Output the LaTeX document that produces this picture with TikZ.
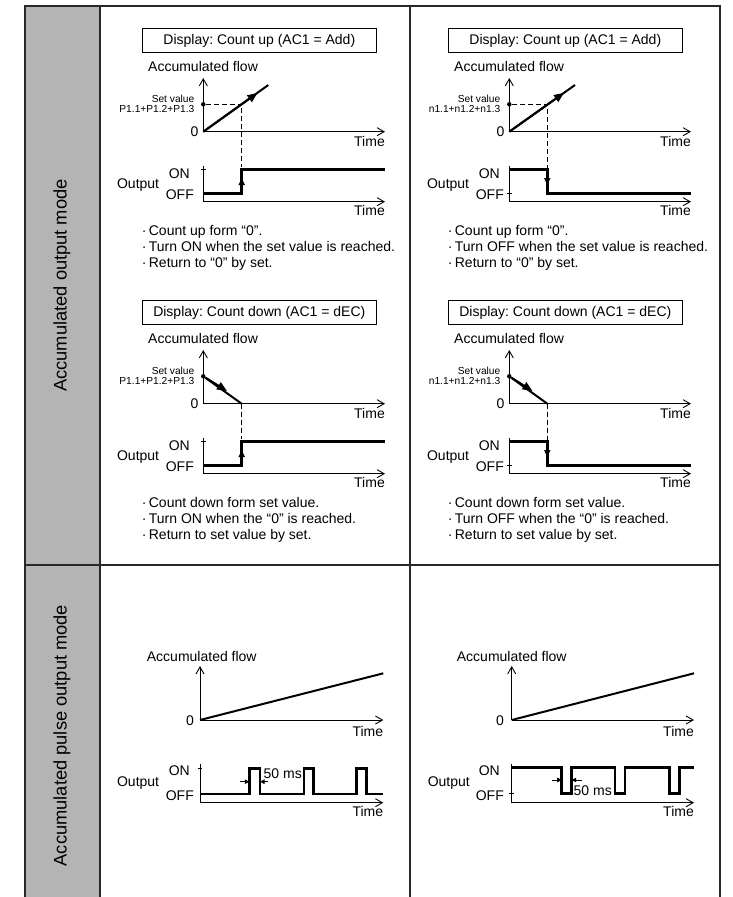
\documentclass[tikz,border=0pt]{standalone}
\usepackage{fontspec}
\setmainfont{Liberation Sans}
\usetikzlibrary{arrows.meta}
\frenchspacing
\definecolor{graycol}{RGB}{180,180,180}
\definecolor{linecol}{RGB}{40,40,40}
\tikzset{
  lbl/.style={font=\fontsize{14}{16}\selectfont, inner sep=0pt},
  small/.style={font=\fontsize{10.2}{12}\selectfont, inner sep=0pt},
  sidelbl/.style={font=\fontsize{18.3}{20}\selectfont, inner sep=0pt, rotate=90},
  gridline/.style={draw=linecol, line width=1.3pt},
  axis/.style={draw=black, line width=0.9pt, -{Straight Barb[length=7pt,width=8pt]}},
  vaxis/.style={draw=black, line width=0.9pt},
  tick/.style={draw=black, line width=0.9pt},
  sig/.style={draw=black, line width=2.6pt, line join=miter},
  ramp/.style={draw=black, line width=2pt},
  rampar/.style={draw=black, line width=2pt, -{Triangle[length=10pt,width=8pt]}},
  stepar/.style={draw=black, line width=1.5pt, -{Triangle[length=7pt,width=6pt]}},
  guide/.style={draw=black, line width=0.9pt, dash pattern=on 5pt off 3pt},
  dimar/.style={draw=black, line width=0.8pt, -{Triangle[length=4.5pt,width=4.5pt]}},
  titlebox/.style={draw=black, line width=1.1pt, minimum width=234pt, minimum height=24pt, inner sep=0pt, font=\fontsize{14}{16}\selectfont},
  dotnode/.style={circle, fill=black, inner sep=0pt, minimum size=4.5pt}
}
% #1 prefix, #2 title, #3 set label, #4 #5 #6 bullets, #7 label dx
\newcommand\cntframe[7]{%
  \node[titlebox] (#1title) at (259.3,40.5) {#2};
  \node[lbl,anchor=base west] (#1acc) at (148,71.6) {Accumulated flow};
  \coordinate (#1o) at (203.3,131.7);
  \coordinate (#1ytip) at (203.3,78);
  \coordinate (#1xtip) at (385,131.7);
  \draw[axis] (#1o) -- (#1ytip);
  \draw[axis] (#1o) -- (#1xtip);
  \node[lbl,anchor=base east] (#1zero) at (198.5,136.4) {0};
  \node[lbl,anchor=base east] (#1time) at (385,146) {Time};
  \node[small,anchor=base east] (#1setA) at (194.5,102.6) {Set value};
  \node[small,anchor=base east] (#1setB) at (194.5,112.9) {#3};
  \node[dotnode] (#1dot) at (203.3,104.3) {};
  \coordinate (#1oo) at (203.3,201.7);
  \coordinate (#1otop) at (203.3,165.5);
  \coordinate (#1oxtip) at (385,201.7);
  \draw[vaxis] (#1otop) -- (#1oo);
  \draw[axis] (#1oo) -- (#1oxtip);
  \node[lbl,anchor=base east] (#1otime) at (385,215.6) {Time};
  \node[lbl,anchor=base east] (#1on) at (190+#7,178.2) {ON};
  \node[lbl,anchor=base east] (#1off) at (194+#7,199) {OFF};
  \node[lbl,anchor=base east] (#1out) at (159.3+#7,188.2) {Output};
  \node[lbl,anchor=base west] (#1b1) at (141.7,235) {·\,Count #4};
  \node[lbl,anchor=base west] (#1b2) at (141.7,251.7) {·\,Turn #5 is reached.};
  \node[lbl,anchor=base west] (#1b3) at (141.7,267.7) {·\,Return to #6 by set.};
}
\begin{document}
\begin{tikzpicture}[x=1pt,y=-1pt]
\useasboundingbox (0,0) rectangle (733,897);
% table
\fill[graycol] (25,6) rectangle (100,897);
\coordinate (tl) at (25,6);
\coordinate (tr) at (720,6);
\coordinate (bl) at (25,897);
\coordinate (br) at (720,897);
\coordinate (gt) at (100,6);
\coordinate (gb) at (100,897);
\coordinate (mt) at (410,6);
\coordinate (mb) at (410,897);
\coordinate (rl) at (25,565);
\coordinate (rr) at (720,565);
\draw[gridline] (bl) -- (tl) -- (tr) -- (br);
\draw[gridline] (gt) -- (gb);
\draw[gridline] (mt) -- (mb);
\draw[gridline] (rl) -- (rr);
\node[sidelbl] (mode1) at (62,285.5) {Accumulated output mode};
\node[sidelbl] (mode2) at (62,735.5) {Accumulated pulse output mode};

% ---------- top left ----------
\begin{scope}
\cntframe{a}{Display: Count up (AC1 = Add)}{P1.1+P1.2+P1.3}{up form “0”.}{ON when the set value}{“0”}{0}
\coordinate (aend) at (268.3,85);
\coordinate (aarr) at (257.5,93);
\coordinate (across) at (241.7,104.3);
\coordinate (adash) at (241.7,167);
\draw[ramp] (ao) -- (aend);
\draw[rampar] (ao) -- (aarr);
\draw[guide] (adot) -- (across) -- (adash);
\coordinate (as0) at (203.3,193.3);
\coordinate (as1) at (241.7,193.3);
\coordinate (as2) at (241.7,169.3);
\coordinate (as3) at (385,169.3);
\coordinate (asm) at (241.7,178);
\draw[sig] (as0) -- (as1) -- (as2) -- (as3);
\draw[stepar] (as1) -- (asm);
\draw[tick] (201,169.3) -- (205.6,169.3);
\end{scope}

% ---------- top right ----------
\begin{scope}[xshift=306pt]
\cntframe{b}{Display: Count up (AC1 = Add)}{n1.1+n1.2+n1.3}{up form “0”.}{OFF when the set value}{“0”}{4}
\coordinate (bend) at (269,85);
\coordinate (barr) at (258,92.8);
\coordinate (bcross) at (241.3,104.3);
\coordinate (bdash) at (241.3,171);
\draw[ramp] (bo) -- (bend);
\draw[rampar] (bo) -- (barr);
\draw[guide] (bdot) -- (bcross) -- (bdash);
\coordinate (bs0) at (203.3,169.3);
\coordinate (bs1) at (241.3,169.3);
\coordinate (bs2) at (241.3,193.3);
\coordinate (bs3) at (385,193.3);
\coordinate (bsm) at (241.3,185);
\draw[sig] (bs0) -- (bs1) -- (bs2) -- (bs3);
\draw[stepar] (bs1) -- (bsm);
\draw[tick] (201,193.3) -- (205.6,193.3);
\end{scope}

% ---------- middle left ----------
\begin{scope}[yshift=-272pt]
\cntframe{c}{Display: Count down (AC1 = dEC)}{P1.1+P1.2+P1.3}{down form set value.}{ON when the “0”}{set value}{0}
\coordinate (cend) at (241.7,131.7);
\coordinate (carr) at (227,119);
\coordinate (cdash) at (241.7,167);
\draw[ramp] (cdot) -- (cend);
\draw[rampar] (cdot) -- (carr);
\draw[guide] (cend) -- (cdash);
\coordinate (cs0) at (203.3,193.3);
\coordinate (cs1) at (241.7,193.3);
\coordinate (cs2) at (241.7,169.3);
\coordinate (cs3) at (385,169.3);
\coordinate (csm) at (241.7,178);
\draw[sig] (cs0) -- (cs1) -- (cs2) -- (cs3);
\draw[stepar] (cs1) -- (csm);
\draw[tick] (201,169.3) -- (205.6,169.3);
\end{scope}

% ---------- middle right ----------
\begin{scope}[xshift=306pt,yshift=-272pt]
\cntframe{d}{Display: Count down (AC1 = dEC)}{n1.1+n1.2+n1.3}{down form set value.}{OFF when the “0”}{set value}{4}
\coordinate (dend) at (241.3,131.7);
\coordinate (darr) at (226.5,119);
\coordinate (ddash) at (241.3,171);
\draw[ramp] (ddot) -- (dend);
\draw[rampar] (ddot) -- (darr);
\draw[guide] (dend) -- (ddash);
\coordinate (ds0) at (203.3,169.3);
\coordinate (ds1) at (241.3,169.3);
\coordinate (ds2) at (241.3,193.3);
\coordinate (ds3) at (385,193.3);
\coordinate (dsm) at (241.3,185);
\draw[sig] (ds0) -- (ds1) -- (ds2) -- (ds3);
\draw[stepar] (ds1) -- (dsm);
\draw[tick] (201,193.3) -- (205.6,193.3);
\end{scope}

% ---------- bottom left ----------
\node[lbl,anchor=base west] (eacc) at (146.7,661) {Accumulated flow};
\coordinate (eo) at (200,720);
\coordinate (eytip) at (200,666);
\coordinate (extip) at (383.3,720);
\coordinate (eend) at (383.3,673.3);
\draw[axis] (eo) -- (eytip);
\draw[axis] (eo) -- (extip);
\draw[ramp] (eo) -- (eend);
\node[lbl,anchor=base east] (ezero) at (194,725) {0};
\node[lbl,anchor=base east] (etime) at (383.3,736.6) {Time};
\coordinate (eoo) at (200,802.7);
\coordinate (eotop) at (200,763.5);
\coordinate (eoxtip) at (383.3,802.7);
\draw[vaxis] (eotop) -- (eoo);
\draw[axis] (eoo) -- (eoxtip);
\draw[tick] (197.7,768.3) -- (202.3,768.3);
\node[lbl,anchor=base east] (eotime) at (383.3,816.4) {Time};
\node[lbl,anchor=base east] (eon) at (190,775.6) {ON};
\node[lbl,anchor=base east] (eoff) at (194,800) {OFF};
\node[lbl,anchor=base east] (eout) at (159.3,786.6) {Output};
\draw[sig] (200,794) -- (249.3,794) -- (249.3,768.3) -- (260,768.3) -- (260,794)
  -- (304,794) -- (304,768.3) -- (313.3,768.3) -- (313.3,794)
  -- (356.7,794) -- (356.7,768.3) -- (366.7,768.3) -- (366.7,794) -- (383.3,794);
\coordinate (ed1) at (240,781.7);
\coordinate (ed2) at (249.3,781.7);
\coordinate (ed3) at (268.3,781.7);
\coordinate (ed4) at (260,781.7);
\draw[dimar] (ed1) -- (ed2);
\draw[dimar] (ed3) -- (ed4);
\node[lbl,anchor=base west] (ems) at (263.5,778.4) {50 ms};

% ---------- bottom right ----------
\node[lbl,anchor=base west] (facc) at (456.7,661) {Accumulated flow};
\coordinate (fo) at (511.7,720);
\coordinate (fytip) at (511.7,666);
\coordinate (fxtip) at (694,720);
\coordinate (fend) at (694,673.3);
\draw[axis] (fo) -- (fytip);
\draw[axis] (fo) -- (fxtip);
\draw[ramp] (fo) -- (fend);
\node[lbl,anchor=base east] (fzero) at (504,725) {0};
\node[lbl,anchor=base east] (ftime) at (694,736.6) {Time};
\coordinate (foo) at (511.7,802.7);
\coordinate (fotop) at (511.7,763.5);
\coordinate (foxtip) at (694,802.7);
\draw[vaxis] (fotop) -- (foo);
\draw[axis] (foo) -- (foxtip);
\draw[tick] (509.4,793.3) -- (514,793.3);
\node[lbl,anchor=base east] (fotime) at (694,816.4) {Time};
\node[lbl,anchor=base east] (fon) at (500,775.6) {ON};
\node[lbl,anchor=base east] (foff) at (504,800) {OFF};
\node[lbl,anchor=base east] (fout) at (470,786.6) {Output};
\draw[sig] (511.7,767.7) -- (561.7,767.7) -- (561.7,793.3) -- (571.7,793.3) -- (571.7,767.7)
  -- (615,767.7) -- (615,793.3) -- (625,793.3) -- (625,767.7)
  -- (669.3,767.7) -- (669.3,793.3) -- (679.3,793.3) -- (679.3,767.7) -- (694,767.7);
\coordinate (fd1) at (551.7,780);
\coordinate (fd2) at (561.7,780);
\coordinate (fd3) at (581.7,780);
\coordinate (fd4) at (571.7,780);
\draw[dimar] (fd1) -- (fd2);
\draw[dimar] (fd3) -- (fd4);
\node[lbl,anchor=base west] (fms) at (573.5,795) {50 ms};
\end{tikzpicture}
\end{document}
